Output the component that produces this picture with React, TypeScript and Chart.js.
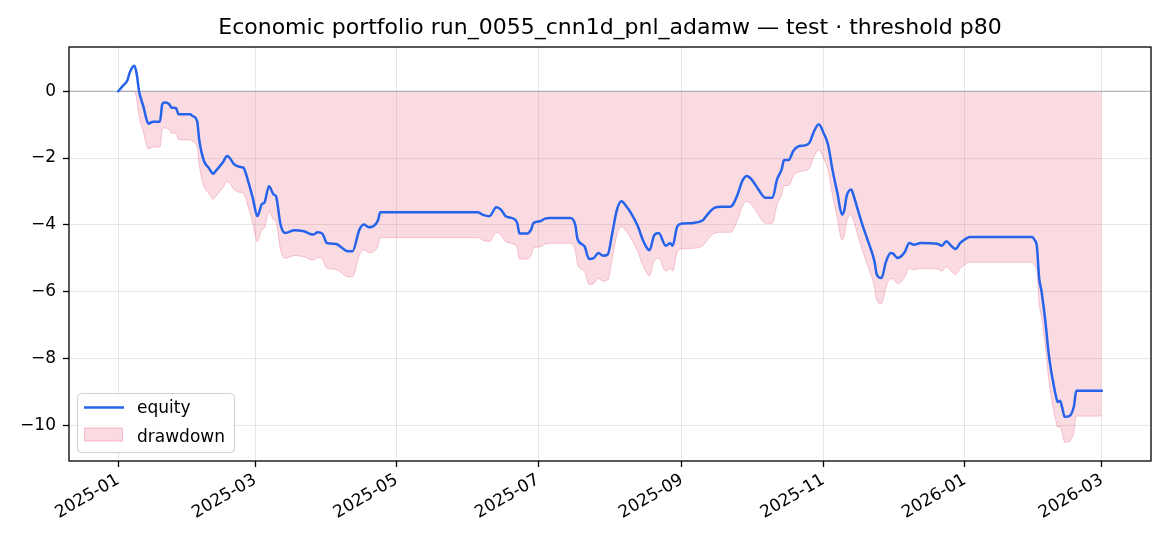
import { useEffect, useRef } from "react";
import { Chart, registerables } from "chart.js";

Chart.register(...registerables);

// ---------- data ----------
const dates: string[] = [
  "2025-01-01", "2025-01-03", "2025-01-05", "2025-01-06", "2025-01-08", "2025-01-09", "2025-01-10",
  "2025-01-12", "2025-01-13", "2025-01-14", "2025-01-16", "2025-01-19", "2025-01-20", "2025-01-21",
  "2025-01-23", "2025-01-24", "2025-01-26", "2025-01-27", "2025-02-01", "2025-02-02", "2025-02-04",
  "2025-02-05", "2025-02-07", "2025-02-09", "2025-02-11", "2025-02-12", "2025-02-15", "2025-02-17",
  "2025-02-18", "2025-02-20", "2025-02-23", "2025-02-24", "2025-02-26", "2025-02-28", "2025-03-02",
  "2025-03-04", "2025-03-05", "2025-03-07", "2025-03-09", "2025-03-10", "2025-03-12", "2025-03-14",
  "2025-03-18", "2025-03-22", "2025-03-26", "2025-03-28", "2025-03-30", "2025-04-01", "2025-04-05",
  "2025-04-07", "2025-04-10", "2025-04-12", "2025-04-15", "2025-04-17", "2025-04-19", "2025-04-21",
  "2025-04-23", "2025-04-24", "2025-06-05", "2025-06-07", "2025-06-10", "2025-06-13", "2025-06-15",
  "2025-06-17", "2025-06-20", "2025-06-22", "2025-06-23", "2025-06-26", "2025-06-28", "2025-06-29",
  "2025-07-02", "2025-07-04", "2025-07-06", "2025-07-15", "2025-07-17", "2025-07-18", "2025-07-21",
  "2025-07-23", "2025-07-25", "2025-07-27", "2025-07-29", "2025-07-31", "2025-08-02", "2025-08-04",
  "2025-08-06", "2025-08-08", "2025-08-10", "2025-08-13", "2025-08-15", "2025-08-17", "2025-08-18",
  "2025-08-20", "2025-08-22", "2025-08-25", "2025-08-27", "2025-08-28", "2025-08-30", "2025-09-01",
  "2025-09-06", "2025-09-10", "2025-09-12", "2025-09-15", "2025-09-18", "2025-09-22", "2025-09-23",
  "2025-09-25", "2025-09-27", "2025-09-29", "2025-10-01", "2025-10-04", "2025-10-07", "2025-10-10",
  "2025-10-12", "2025-10-14", "2025-10-15", "2025-10-17", "2025-10-19", "2025-10-21", "2025-10-24",
  "2025-10-26", "2025-10-28", "2025-10-30", "2025-11-01", "2025-11-03", "2025-11-05", "2025-11-07",
  "2025-11-09", "2025-11-10", "2025-11-11", "2025-11-13", "2025-11-14", "2025-11-16", "2025-11-18",
  "2025-11-20", "2025-11-23", "2025-11-24", "2025-11-26", "2025-11-28", "2025-11-30", "2025-12-01",
  "2025-12-03", "2025-12-06", "2025-12-08", "2025-12-10", "2025-12-13", "2025-12-20", "2025-12-22",
  "2025-12-24", "2025-12-26", "2025-12-28", "2025-12-30", "2026-01-02", "2026-01-03", "2026-01-30",
  "2026-01-31", "2026-02-01", "2026-02-02", "2026-02-03", "2026-02-04", "2026-02-05", "2026-02-06",
  "2026-02-07", "2026-02-08", "2026-02-09", "2026-02-10", "2026-02-11", "2026-02-12", "2026-02-13",
  "2026-02-15", "2026-02-17", "2026-02-18", "2026-03-01",
];

const equity: number[] = [
  0, 0.16, 0.33, 0.56, 0.76, 0.51, 0.0,
  -0.49, -0.79, -0.97, -0.91, -0.91, -0.39, -0.34,
  -0.39, -0.49, -0.51, -0.69, -0.69, -0.74, -0.89,
  -1.49, -2.09, -2.29, -2.47, -2.39, -2.14, -1.94,
  -1.99, -2.19, -2.27, -2.29, -2.69, -3.19, -3.74,
  -3.37, -3.34, -2.84, -3.09, -3.14, -3.99, -4.24,
  -4.16, -4.19, -4.29, -4.22, -4.26, -4.54, -4.57,
  -4.66, -4.79, -4.79, -4.14, -3.99, -4.07, -4.04,
  -3.86, -3.62, -3.62, -3.69, -3.74, -3.47, -3.54,
  -3.74, -3.8, -3.94, -4.26, -4.26, -4.14, -3.94,
  -3.89, -3.81, -3.79, -3.79, -3.99, -4.42, -4.64,
  -5.02, -4.99, -4.84, -4.92, -4.89, -4.24, -3.54,
  -3.29, -3.44, -3.64, -4.04, -4.42, -4.7, -4.76,
  -4.32, -4.24, -4.62, -4.55, -4.62, -4.04, -3.96,
  -3.94, -3.86, -3.69, -3.49, -3.46, -3.46, -3.39,
  -3.09, -2.69, -2.54, -2.64, -2.94, -3.19, -3.19,
  -2.64, -2.34, -2.06, -2.06, -1.79, -1.66, -1.62,
  -1.54, -1.19, -0.99, -1.24, -1.6, -2.39, -3.04,
  -3.69, -3.56, -3.14, -2.94, -3.12, -3.59, -4.04,
  -4.44, -5.09, -5.49, -5.59, -5.09, -4.84, -4.86,
  -4.99, -4.82, -4.54, -4.59, -4.54, -4.56, -4.62,
  -4.49, -4.62, -4.72, -4.54, -4.39, -4.36, -4.36,
  -4.45, -4.64, -5.6, -5.98, -6.5, -7.1, -7.8,
  -8.3, -8.7, -9.05, -9.3, -9.26, -9.49, -9.74,
  -9.72, -9.42, -8.96, -8.96,
];

// drawdown = equity minus its running maximum
const drawdown: number[] = (() => {
  let peak = -Infinity;
  return equity.map((v) => {
    peak = Math.max(peak, v);
    return v - peak;
  });
})();

const xTickDates: string[] = [
  "2025-01-01", "2025-03-01", "2025-05-01", "2025-07-01",
  "2025-09-01", "2025-11-01", "2026-01-01", "2026-03-01",
];
const xTickLabels: string[] = [
  "2025-01", "2025-03", "2025-05", "2025-07",
  "2025-09", "2025-11", "2026-01", "2026-03",
];
const yTicks: number[] = [-10, -8, -6, -4, -2, 0];

const titleText = "Economic portfolio run_0055_cnn1d_pnl_adamw — test · threshold p80";
const seriesNames: string[] = ["equity", "drawdown"];

// ---------- styles ----------
const FONT = "'DejaVu Sans', sans-serif";
const BLUE = "#2563eb";
const PINK_FILL = "rgba(225, 29, 72, 0.16)";
const PINK_EDGE = "rgba(225, 29, 72, 0.22)";
const ZERO_LINE = "rgba(100, 116, 139, 0.55)";
const GRID = "rgba(0, 0, 0, 0.09)";

const ORIGIN = Date.UTC(2025, 0, 1);
function dayOf(s: string): number {
  const [y, m, d] = s.split("-").map(Number);
  return (Date.UTC(y, m - 1, d) - ORIGIN) / 86400000;
}

export default function App() {
  const canvasRef = useRef<HTMLCanvasElement | null>(null);

  useEffect(() => {
    document.body.style.margin = "0";
    const canvas = canvasRef.current;
    if (!canvas) return;

    const xs = dates.map(dayOf);
    const xMinData = Math.min(...xs);
    const xMaxData = Math.max(...xs);
    const xPad = (xMaxData - xMinData) * 0.05;
    const yMinData = Math.min(...drawdown, ...equity);
    const yMaxData = Math.max(...drawdown, ...equity);
    const yPad = (yMaxData - yMinData) * 0.05;
    const xMin = xMinData - xPad;
    const xMax = xMaxData + xPad;

    const tickDays = xTickDates.map(dayOf);

    const decorPlugin = {
      id: "decor",
      afterDraw(chart: any) {
        const { ctx, chartArea } = chart;
        const { left, right, top, bottom } = chartArea;
        ctx.save();
        // frame
        ctx.strokeStyle = "#000";
        ctx.lineWidth = 1.3;
        ctx.strokeRect(left, top, right - left, bottom - top);
        // title
        ctx.fillStyle = "#000";
        ctx.font = `22px ${FONT}`;
        ctx.textAlign = "center";
        ctx.textBaseline = "alphabetic";
        ctx.fillText(titleText, (left + right) / 2, 34);
        // legend
        const lx = 77.5, ly = 393.5, lw = 157, lh = 59, r = 4;
        ctx.beginPath();
        ctx.moveTo(lx + r, ly);
        ctx.lineTo(lx + lw - r, ly);
        ctx.arcTo(lx + lw, ly, lx + lw, ly + r, r);
        ctx.lineTo(lx + lw, ly + lh - r);
        ctx.arcTo(lx + lw, ly + lh, lx + lw - r, ly + lh, r);
        ctx.lineTo(lx + r, ly + lh);
        ctx.arcTo(lx, ly + lh, lx, ly + lh - r, r);
        ctx.lineTo(lx, ly + r);
        ctx.arcTo(lx, ly, lx + r, ly, r);
        ctx.closePath();
        ctx.fillStyle = "rgba(255,255,255,0.8)";
        ctx.fill();
        ctx.strokeStyle = "#d0d0d0";
        ctx.lineWidth = 1;
        ctx.stroke();

        ctx.strokeStyle = BLUE;
        ctx.lineWidth = 2.5;
        ctx.beginPath();
        ctx.moveTo(84, 407.5);
        ctx.lineTo(124, 407.5);
        ctx.stroke();

        ctx.fillStyle = PINK_FILL;
        ctx.fillRect(84.5, 428, 38, 13);
        ctx.strokeStyle = "rgba(225, 29, 72, 0.25)";
        ctx.lineWidth = 1;
        ctx.strokeRect(84.5, 428, 38, 13);

        ctx.fillStyle = "#000";
        ctx.font = `17px ${FONT}`;
        ctx.textAlign = "left";
        ctx.fillText(seriesNames[0], 137, 413);
        ctx.fillText(seriesNames[1], 137, 441.5);
        ctx.restore();
      },
    };

    const chart = new Chart(canvas, {
      type: "line",
      data: {
        datasets: [
          {
            label: seriesNames[0],
            data: xs.map((x, i) => ({ x, y: equity[i] })),
            borderColor: BLUE,
            borderWidth: 2.5,
            borderJoinStyle: "round",
            borderCapStyle: "round",
            pointRadius: 0,
            fill: false,
            cubicInterpolationMode: "monotone",
            order: 0,
          },
          {
            label: "zero",
            data: [
              { x: xMin, y: 0 },
              { x: xMax, y: 0 },
            ],
            borderColor: ZERO_LINE,
            borderWidth: 1.1,
            pointRadius: 0,
            fill: false,
            order: 1,
          },
          {
            label: seriesNames[1],
            data: xs.map((x, i) => ({ x, y: drawdown[i] })),
            borderColor: PINK_EDGE,
            backgroundColor: PINK_FILL,
            borderWidth: 1,
            pointRadius: 0,
            fill: "origin",
            cubicInterpolationMode: "monotone",
            order: 2,
          },
        ],
      },
      options: {
        responsive: false,
        animation: false,
        layout: { padding: { top: 47, right: 19, left: 0, bottom: 0 } },
        plugins: {
          legend: { display: false },
          title: { display: false },
          tooltip: { enabled: false },
        },
        scales: {
          x: {
            type: "linear",
            min: xMin,
            max: xMax,
            afterBuildTicks: (s: any) => {
              s.ticks = tickDays.map((v) => ({ value: v }));
            },
            afterFit: (s: any) => {
              s.height = 85;
              s.paddingLeft = 0;
              s.paddingRight = 0;
            },
            ticks: {
              autoSkip: false,
              minRotation: 30,
              maxRotation: 30,
              padding: 3,
              color: "#000",
              font: { family: FONT, size: 17 },
              callback: (v: any) => {
                const idx = tickDays.indexOf(Number(v));
                return idx >= 0 ? xTickLabels[idx] : "";
              },
            },
            grid: {
              color: GRID,
              lineWidth: 1,
              drawTicks: true,
              tickLength: 6,
              tickColor: "#000",
              tickWidth: 1.3,
            },
            border: { display: false },
          },
          y: {
            type: "linear",
            min: yMinData - yPad,
            max: yMaxData + yPad,
            afterBuildTicks: (s: any) => {
              s.ticks = yTicks.map((v) => ({ value: v }));
            },
            afterFit: (s: any) => {
              s.width = 69;
            },
            ticks: {
              padding: 7,
              color: "#000",
              font: { family: FONT, size: 17 },
              callback: (v: any) => {
                const n = Number(v);
                return n < 0 ? "\u2212" + Math.abs(n) : String(n);
              },
            },
            grid: {
              color: GRID,
              lineWidth: 1,
              drawTicks: true,
              tickLength: 6,
              tickColor: "#000",
              tickWidth: 1.3,
            },
            border: { display: false },
          },
        },
      },
      plugins: [decorPlugin],
    });

    return () => {
      chart.destroy();
    };
  }, []);

  return (
    <div style={{ width: 1170, height: 546, background: "#fff" }}>
      <canvas ref={canvasRef} width={1170} height={546} />
    </div>
  );
}
